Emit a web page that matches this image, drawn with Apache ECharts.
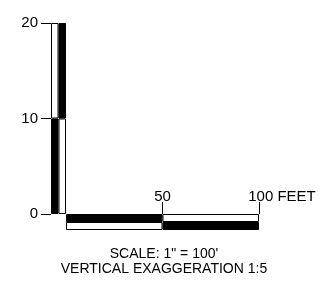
<!DOCTYPE html>
<html>
<head>
<meta charset="utf-8">
<script src="https://cdn.jsdelivr.net/npm/echarts@6/dist/echarts.min.js"></script>
<style>
  html, body { margin: 0; padding: 0; background: #fff; }
  #chart { width: 328px; height: 287px; }
</style>
</head>
<body>
<div id="chart"></div>
<script>
// vertical scale bar (feet), two columns
var vertColumns = ['left', 'right']
var vertLower = [10, 10]
var vertUpper = [10, 10]

// horizontal scale bar (feet), two rows, bottom row first
var horizRows = ['bottom', 'top']
var horizFirst = [50, 50]
var horizSecond = [50, 50]

var caption = 'SCALE: 1" = 100\'\nVERTICAL EXAGGERATION 1:5'

var font = 'Liberation Sans, Arial, sans-serif'
var BLACK = '#000'
var WHITE = '#fff'

var myChart = echarts.init(document.getElementById('chart'))

// alternating fill: black/white checker between the two columns/rows
function fill(black) {
  return function (p) { return black(p.dataIndex) ? BLACK : WHITE }
}

var barBase = {
  type: 'bar',
  barWidth: '100%',
  barCategoryGap: 0,
  silent: true,
  animation: false
}

var option = {
  animation: false,
  title: {
    text: caption,
    left: 'center',
    top: 242,
    textStyle: {
      fontFamily: font,
      fontSize: 14,
      fontWeight: 'normal',
      lineHeight: 15,
      color: BLACK
    }
  },
  grid: [
    { left: 51, top: 23, width: 15, height: 191 },
    { left: 66, top: 214, width: 193, height: 16 }
  ],
  xAxis: [
    { gridIndex: 0, type: 'category', data: vertColumns, show: false },
    {
      gridIndex: 1,
      type: 'value',
      position: 'top',
      min: 0,
      max: 100,
      interval: 50,
      splitLine: { show: false },
      axisLine: { show: false },
      axisTick: { show: true, length: 12, lineStyle: { color: BLACK } },
      axisLabel: {
        showMinLabel: false,
        margin: 10,
        fontFamily: font,
        fontSize: 15,
        color: BLACK,
        formatter: function (v) {
          return v === 100 ? '{f|100 FEET}' : v
        },
        rich: {
          f: { fontFamily: font, fontSize: 15, color: BLACK, padding: [0, 0, 0, 46] }
        }
      }
    }
  ],
  yAxis: [
    {
      gridIndex: 0,
      type: 'value',
      min: 0,
      max: 20,
      interval: 10,
      splitLine: { show: false },
      axisLine: { show: false },
      axisTick: { show: true, length: 10, lineStyle: { color: BLACK } },
      axisLabel: { margin: 13, fontFamily: font, fontSize: 15, color: BLACK }
    },
    { gridIndex: 1, type: 'category', data: horizRows, show: false }
  ],
  series: [
    Object.assign({}, barBase, {
      xAxisIndex: 0, yAxisIndex: 0, stack: 'v', data: vertLower,
      itemStyle: { color: fill(function (i) { return i === 0 }), borderColor: BLACK, borderWidth: 1 }
    }),
    Object.assign({}, barBase, {
      xAxisIndex: 0, yAxisIndex: 0, stack: 'v', data: vertUpper,
      itemStyle: { color: fill(function (i) { return i === 1 }), borderColor: BLACK, borderWidth: 1 }
    }),
    Object.assign({}, barBase, {
      xAxisIndex: 1, yAxisIndex: 1, stack: 'h', data: horizFirst,
      itemStyle: { color: fill(function (i) { return i === 1 }), borderColor: BLACK, borderWidth: 1 }
    }),
    Object.assign({}, barBase, {
      xAxisIndex: 1, yAxisIndex: 1, stack: 'h', data: horizSecond,
      itemStyle: { color: fill(function (i) { return i === 0 }), borderColor: BLACK, borderWidth: 1 }
    })
  ]
}

option && myChart.setOption(option)
</script>
</body>
</html>
